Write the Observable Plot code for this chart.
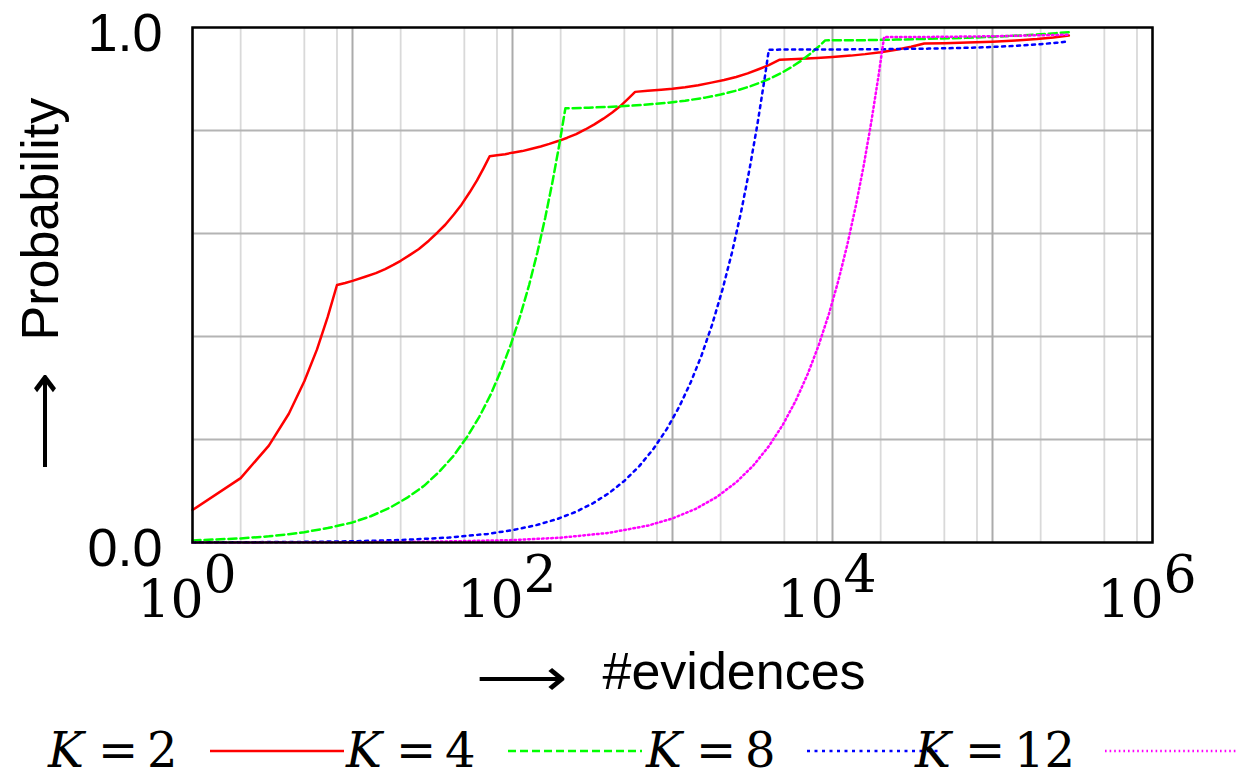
<!DOCTYPE html>
<html>
<head>
<meta charset="utf-8">
<script src="https://cdn.jsdelivr.net/npm/d3@7"></script>
<script src="https://cdn.jsdelivr.net/npm/@observablehq/plot@0.6"></script>
<style>
html, body { margin: 0; padding: 0; background: #fff; }
#chart svg, #legend svg { display: block; }
</style>
</head>
<body>
<div id="chart"></div>
<div id="legend"></div>
<script>
// ---------- data ----------
const seriesK = [2, 4, 8, 12];

const k2N = [1,2,3,4,5,6,7,8,9,10,12,14,16,18,20,23,26,30,34,38,43,48,54,60,66,72,80,90,100,115,130,150,170,195,220,250,285,325,370,420,470,525,584,700,850,1000,1200,1450,1750,2100,2500,2950,3450,4000,4680,6000,8000,10000,13000,16000,20000,25000,31000,37448,50000,70000,100000,140000,190000,240000,300000];
const k2P = [0.063,0.125,0.188,0.25,0.313,0.375,0.438,0.5,0.504,0.508,0.516,0.523,0.531,0.539,0.547,0.559,0.570,0.586,0.602,0.617,0.637,0.656,0.680,0.703,0.727,0.75,0.752,0.754,0.757,0.760,0.764,0.769,0.774,0.780,0.786,0.793,0.802,0.812,0.823,0.835,0.847,0.861,0.875,0.877,0.879,0.881,0.884,0.888,0.893,0.898,0.904,0.911,0.919,0.927,0.9375,0.9388,0.9407,0.9426,0.9454,0.9483,0.9521,0.9569,0.9626,0.9688,0.9695,0.9707,0.9725,0.9749,0.9778,0.9808,0.9844];

const k4N = [1,2,3,4,5,7,10,13,17,22,28,35,43,52,62,73,85,98,112,127,143,160,178,196,214,300,450,650,900,1200,1600,2000,2500,3000,3600,4200,4900,5600,6400,7200,8100,9000,15000,25000,40000,70000,100000,150000,200000,250000,300000];
const k4P = [0.004,0.008,0.012,0.016,0.02,0.028,0.039,0.051,0.067,0.087,0.110,0.138,0.169,0.205,0.244,0.287,0.335,0.386,0.441,0.500,0.563,0.630,0.701,0.772,0.843,0.8443,0.8465,0.8496,0.8533,0.8578,0.8638,0.8698,0.8773,0.8849,0.8939,0.9029,0.9134,0.9239,0.9359,0.948,0.9615,0.975,0.9753,0.9765,0.978,0.980,0.982,0.9845,0.987,0.989,0.991];

const k8N = [1,2,5,10,20,40,70,100,140,190,250,320,400,500,620,760,920,1100,1300,1520,1770,2050,2350,2680,3030,3400,3800,4000,6000,10000,20000,40000,70000,100000,150000,200000,250000,300000];
const k8P = [0.0002,0.0005,0.0012,0.0024,0.0048,0.0096,0.0167,0.024,0.0335,0.0455,0.0598,0.0766,0.0957,0.1196,0.1483,0.1818,0.2201,0.2632,0.311,0.3636,0.4234,0.4904,0.5622,0.6411,0.7249,0.8134,0.9091,0.957,0.9571,0.9573,0.9579,0.959,0.9606,0.9622,0.9649,0.9676,0.9703,0.973];

const k12N = [1,10,30,100,200,400,700,1000,1400,1900,2500,3200,4000,4900,5900,7000,8200,9500,10900,12400,14000,15700,17500,19400,21000,40000,70000,100000,150000,200000,300000];
const k12P = [0.00005,0.0005,0.0014,0.0047,0.0093,0.0187,0.0327,0.0467,0.0654,0.0888,0.1168,0.1495,0.1869,0.229,0.2757,0.3271,0.3832,0.4439,0.5093,0.5794,0.6542,0.7336,0.8178,0.9065,0.9813,0.9817,0.9825,0.983,0.9842,0.985,0.986];

const xDecades = [1, 10, 100, 1e3, 1e4, 1e5, 1e6];
const xMinorMultipliers = [2, 5, 8];
const xLabelValues = [1, 1e2, 1e4, 1e6];
const xLabelExponents = ["0", "2", "4", "6"];
const yGridValues = [0.2, 0.4, 0.6, 0.8];
const yLabelValues = [0, 1];
const yLabelTexts = ["0.0", "1.0"];
const xTitle = "#evidences";
const yTitle = "Probability";
const arrowGlyph = "\u27F6";

// ---------- styles ----------
const seriesStyle = [
  {color: "#ff0000", dash: null},
  {color: "#00ff00", dash: "8,4"},
  {color: "#0000ff", dash: "3,4.5"},
  {color: "#ff00ff", dash: "1.6,3"}
];
const sans = "'Liberation Sans', Arial, Helvetica, sans-serif";
const serif = "'DejaVu Serif', serif";

const W = 1238, H = 705;
const fL = 192, fR = 1152, fT = 27, fB = 542;

const seriesData = [
  k2N.map((n, i) => ({n, p: k2P[i]})),
  k4N.map((n, i) => ({n, p: k4P[i]})),
  k8N.map((n, i) => ({n, p: k8P[i]})),
  k12N.map((n, i) => ({n, p: k12P[i]}))
];

const minorTicks = xDecades.slice(0, -1).flatMap(d => xMinorMultipliers.map(m => d * m));

const lineMarks = seriesData.map((rows, i) => Plot.line(rows, {
  x: "n", y: "p",
  stroke: seriesStyle[i].color,
  strokeWidth: 2.5,
  strokeDasharray: seriesStyle[i].dash,
  strokeLinejoin: "round",
  curve: "linear"
}));

const chart = Plot.plot({
  width: W, height: H,
  marginLeft: fL, marginRight: W - fR, marginTop: fT, marginBottom: H - fB,
  x: {type: "log", domain: [1, 1e6], axis: null},
  y: {domain: [0, 1], axis: null},
  style: {background: "#fff", overflow: "visible"},
  marks: [
    Plot.ruleX(minorTicks, {x: d => d, stroke: "#d9d9d9", strokeWidth: 1.8}),
    Plot.ruleY(yGridValues, {y: d => d, stroke: "#b4b4b4", strokeWidth: 2}),
    Plot.ruleX(xDecades, {x: d => d, stroke: "#ababab", strokeWidth: 2}),
    ...lineMarks,
    Plot.frame({stroke: "#000", strokeWidth: 2.5}),
    Plot.text(yLabelValues, {y: d => d, frameAnchor: "left", text: (d, i) => yLabelTexts[i],
      textAnchor: "end", lineAnchor: "middle", dx: -30, dy: 6, fontSize: 54, fontFamily: sans, fill: "#000"}),
    Plot.text(xLabelValues, {x: d => d, frameAnchor: "bottom", text: () => "10",
      textAnchor: "end", lineAnchor: "bottom", dx: 11, dy: 74, fontSize: 52, fontFamily: serif, fill: "#000"}),
    Plot.text(xLabelValues, {x: d => d, frameAnchor: "bottom", text: (d, i) => xLabelExponents[i],
      textAnchor: "start", lineAnchor: "bottom", dx: 11, dy: 49, fontSize: 52, fontFamily: serif, fill: "#000"}),
    Plot.text([xTitle], {frameAnchor: "bottom", text: d => d, textAnchor: "start", lineAnchor: "bottom",
      dx: -70, dy: 146, fontSize: 52, fontFamily: sans, fill: "#000"}),
    Plot.text([arrowGlyph], {frameAnchor: "bottom", text: d => d, textAnchor: "end", lineAnchor: "bottom",
      dx: -105, dy: 152, fontSize: 52, fontWeight: 200, fontFamily: "'DejaVu Sans', sans-serif", fill: "#000"}),
    Plot.text([yTitle], {frameAnchor: "left", text: d => d, rotate: -90, textAnchor: "start", lineAnchor: "bottom",
      dx: -135, dy: 55.5, fontSize: 52, fontFamily: sans, fill: "#000"}),
    Plot.text([arrowGlyph], {frameAnchor: "left", text: d => d, rotate: -90, textAnchor: "start", lineAnchor: "bottom",
      dx: -132, dy: 185.5, fontSize: 52, fontWeight: 200, fontFamily: "'DejaVu Sans', sans-serif", fill: "#000"})
  ]
});
// stretch the long arrows to the reference length
const arrows = d3.select(chart).selectAll("text").filter(function() { return this.textContent === arrowGlyph; });
arrows.each(function(d, i) {
  d3.select(this).attr("textLength", i === 0 ? 92 : 100).attr("lengthAdjust", "spacingAndGlyphs");
});
document.getElementById("chart").appendChild(chart);

// ---------- legend (below the plot) ----------
const legendLayout = [{tx: 48, lx: 210}, {tx: 346, lx: 508}, {tx: 646, lx: 807}, {tx: 915, lx: 1105}];
const legendLineLen = 134;
const LH = 73, baseY = 62, lineY = 46;
const lsvg = d3.create("svg").attr("width", W).attr("height", LH).style("overflow", "visible");
seriesK.forEach((k, i) => {
  const L = legendLayout[i];
  const t = lsvg.append("text").attr("y", baseY).attr("font-family", serif).attr("font-size", 48).attr("fill", "#000");
  t.append("tspan").attr("x", L.tx).attr("font-style", "italic").text("K");
  t.append("tspan").attr("x", L.tx + 50).text("=");
  t.append("tspan").attr("x", L.tx + 99).text(String(k));
  lsvg.append("line")
    .attr("x1", L.lx).attr("x2", L.lx + legendLineLen)
    .attr("y1", lineY).attr("y2", lineY)
    .attr("stroke", seriesStyle[i].color).attr("stroke-width", 2.3)
    .attr("stroke-dasharray", seriesStyle[i].dash);
});
document.getElementById("legend").appendChild(lsvg.node());
</script>
</body>
</html>
